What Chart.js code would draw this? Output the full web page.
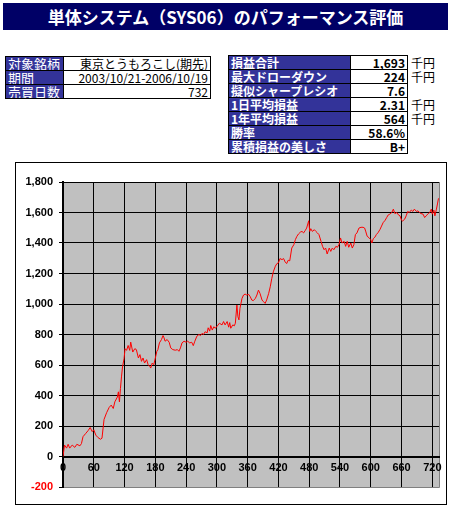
<!DOCTYPE html>
<html>
<head>
<meta charset="utf-8">
<script src="https://cdn.jsdelivr.net/npm/chart.js@4"></script>
<style>
  body { margin: 0; background: #fff; width: 451px; height: 509px; position: relative; overflow: hidden; font-family: "Noto Sans CJK JP", sans-serif; }
  #title { position: absolute; left: 3px; top: 3px; width: 445px; height: 27px; background: #000066; color: #fff; font-weight: bold; font-size: 17px; line-height: 27px; text-align: center; }
  table { position: absolute; border-collapse: collapse; table-layout: fixed; }
  td { border: 1px solid #000; height: 13px; padding: 0 2px; line-height: 13px; white-space: nowrap; overflow: hidden; }
  td.lbl { background: #333399; color: #fff; }
  td.val { background: #fff; color: #000; text-align: right; }
  #info td { font-size: 12px; }
  #info td.lbl { font-size: 13px; }
  #perf td { font-size: 12px; font-weight: bold; }
  #perf td.unit { border: none; font-weight: normal; background: none; padding-left: 3px; }
  #chartBox { position: absolute; left: 15px; top: 162px; width: 430px; height: 341px; border: 1px solid #000; }
</style>
</head>
<body>
<div id="title">単体システム（SYS06）のパフォーマンス評価</div>

<table id="info" style="left:5px; top:56px; width:205px;">
  <colgroup><col style="width:58px"><col style="width:147px"></colgroup>
  <tr><td class="lbl">対象銘柄</td><td class="val">東京とうもろこし(期先)</td></tr>
  <tr><td class="lbl">期間</td><td class="val">2003/10/21-2006/10/19</td></tr>
  <tr><td class="lbl">売買日数</td><td class="val">732</td></tr>
</table>

<table id="perf" style="left:228px; top:55px; width:209px;">
  <colgroup><col style="width:122px"><col style="width:57px"><col style="width:30px"></colgroup>
  <tr><td class="lbl">損益合計</td><td class="val">1,693</td><td class="unit">千円</td></tr>
  <tr><td class="lbl">最大ドローダウン</td><td class="val">224</td><td class="unit">千円</td></tr>
  <tr><td class="lbl">擬似シャープレシオ</td><td class="val">7.6</td><td class="unit"></td></tr>
  <tr><td class="lbl">1日平均損益</td><td class="val">2.31</td><td class="unit">千円</td></tr>
  <tr><td class="lbl">1年平均損益</td><td class="val">564</td><td class="unit">千円</td></tr>
  <tr><td class="lbl">勝率</td><td class="val">58.6%</td><td class="unit"></td></tr>
  <tr><td class="lbl">累積損益の美しさ</td><td class="val">B+</td><td class="unit"></td></tr>
</table>

<div id="chartBox"><canvas id="pnlChart" width="430" height="341"></canvas></div>

<script>
// cumulative profit (千円), by trading day
const days = [
  0, 3, 7, 10, 13, 18, 23, 27, 33, 36, 39, 44, 49, 53, 57, 60, 64, 68, 73, 76,
  80, 85, 90, 94, 98, 101, 106, 108, 110, 112, 114, 116, 119, 121, 124, 127, 130, 132, 136, 140,
  143, 147, 150, 153, 156, 159, 163, 166, 169, 171, 174, 177, 180, 183, 185, 188, 192, 195, 197, 199,
  203, 207, 210, 214, 219, 223, 226, 229, 232, 236, 240, 243, 247, 251, 254, 257, 261, 265, 268, 271,
  274, 277, 281, 283, 286, 288, 291, 294,
  297, 301, 305, 310, 313, 316, 320, 323, 325, 327, 331, 334, 336, 339, 341, 343, 345, 349, 352, 355,
  358, 362, 365, 368, 371, 375, 378, 381, 384, 388, 391, 394, 397, 401, 404, 407, 410, 414, 417, 420,
  423, 427, 430, 433, 436, 439, 442,
  446, 450, 453, 456, 459, 463, 466, 469, 472, 475, 479, 481, 483, 486, 490, 493, 496, 499, 503, 506,
  509, 512, 515, 519, 522, 525, 528, 532, 535, 538, 541, 544, 548, 551, 554, 557, 561, 564, 567, 570,
  573, 577, 581, 585, 588,
  590, 593, 597, 600, 602, 605, 608, 611, 614, 618, 621, 624, 628, 631, 634, 637, 641, 644, 647, 651,
  654, 657, 660, 662, 666, 669, 672, 675, 679, 682, 685, 689, 692, 695, 698, 702, 705, 708, 712, 715,
  718, 720, 723, 725, 728, 730, 732
];
const profit = [
  0, 75, 55, 80, 55, 75, 60, 80, 70, 85, 130, 150, 170, 190, 163, 175, 140, 125, 113, 120,
  243, 287, 322, 337, 315, 358, 390, 424, 358, 446, 522, 587, 641, 707, 696, 728, 696, 750, 685, 707,
  701, 646, 668, 624, 646, 613, 635, 602, 591, 580, 613, 602, 646, 690, 701, 745, 767, 793, 778, 756,
  767, 749, 712, 701, 697, 701, 690, 712, 745, 756, 749, 756, 745, 749, 727, 756, 789, 800, 793, 807,
  800, 818, 811, 844, 822, 859, 829, 851,
  841, 857, 874, 863, 885, 863, 885, 848, 878, 841, 863, 857, 874, 993, 917, 896, 972, 1037, 1059, 1065,
  1059, 1063, 1048, 1026, 1022, 1037, 1059, 1091, 1070, 1026, 1015, 1004, 1026, 1070, 1113, 1167, 1211, 1248, 1265, 1270,
  1298, 1291, 1298, 1276, 1265, 1287, 1283,
  1367, 1389, 1422, 1444, 1459, 1472, 1476, 1466, 1481, 1498, 1546, 1476, 1494, 1476, 1487, 1476, 1466, 1455, 1411, 1378,
  1356, 1367, 1328, 1367, 1345, 1367, 1356, 1378, 1372, 1389, 1433, 1400, 1411, 1378, 1411, 1372, 1400, 1367, 1389, 1455,
  1466, 1498, 1503, 1503, 1498,
  1478, 1444, 1433, 1422, 1400, 1429, 1438, 1456, 1467, 1489, 1511, 1533, 1549, 1567, 1584, 1589, 1600, 1622, 1593, 1600,
  1584, 1578, 1549, 1544, 1556, 1578, 1607, 1600, 1616, 1607, 1622, 1607, 1611, 1600, 1593, 1589, 1567, 1578, 1593, 1600,
  1622, 1589, 1616, 1578, 1622, 1656, 1693
];
const dayMin = 0;
const dayMax = 733;
const dayStep = 60;
const profitMin = -200;
const profitMax = 1800;
const profitStep = 200;

const points = days.map((d, i) => ({ x: d, y: profit[i] }));

// gray plot area with gray right/bottom edge, like the Excel chart
const plotBg = {
  id: 'plotBg',
  beforeDraw(chart) {
    const { ctx, chartArea: a } = chart;
    ctx.save();
    ctx.fillStyle = '#c0c0c0';
    ctx.fillRect(a.left, a.top, a.right - a.left, a.bottom - a.top);
    ctx.strokeStyle = '#808080';
    ctx.lineWidth = 1;
    ctx.beginPath();
    ctx.moveTo(a.right + 0.5, a.top);
    ctx.lineTo(a.right + 0.5, a.bottom + 0.5);
    ctx.lineTo(a.left, a.bottom + 0.5);
    ctx.stroke();
    ctx.restore();
  }
};

const tickFont = { family: "'Liberation Sans', Arial, sans-serif", size: 11, weight: 'bold' };

new Chart(document.getElementById('pnlChart'), {
  type: 'line',
  data: {
    datasets: [{
      data: points,
      borderColor: '#ff0000',
      borderWidth: 1,
      pointRadius: 0,
      tension: 0,
      fill: false
    }]
  },
  options: {
    responsive: false,
    animation: false,
    devicePixelRatio: 1,
    layout: { padding: { top: 19, right: 7, bottom: 17, left: 0 } },
    plugins: { legend: { display: false }, tooltip: { enabled: false } },
    scales: {
      x: {
        type: 'linear',
        position: { y: 0 },
        min: dayMin,
        max: dayMax,
        ticks: { stepSize: dayStep, includeBounds: false, autoSkip: false, maxRotation: 0, font: tickFont, color: '#000', padding: 1 },
        grid: { color: '#000', lineWidth: 1, tickLength: 4, tickColor: '#000' },
        border: { color: '#000', width: 2 }
      },
      y: {
        min: profitMin,
        max: profitMax,
        ticks: {
          stepSize: profitStep,
          font: tickFont,
          padding: 6,
          color: ctx => ctx.tick.value < 0 ? '#ff0000' : '#000',
          callback: v => v.toLocaleString('en-US')
        },
        grid: {
          color: ctx => ctx.tick && ctx.tick.value === profitMin ? '#808080' : '#000',
          lineWidth: 1,
          tickLength: 4,
          tickColor: '#000'
        },
        border: { color: '#000', width: 2 },
        afterFit: scale => { scale.width = 47; }
      }
    }
  },
  plugins: [plotBg]
});
</script>
</body>
</html>
